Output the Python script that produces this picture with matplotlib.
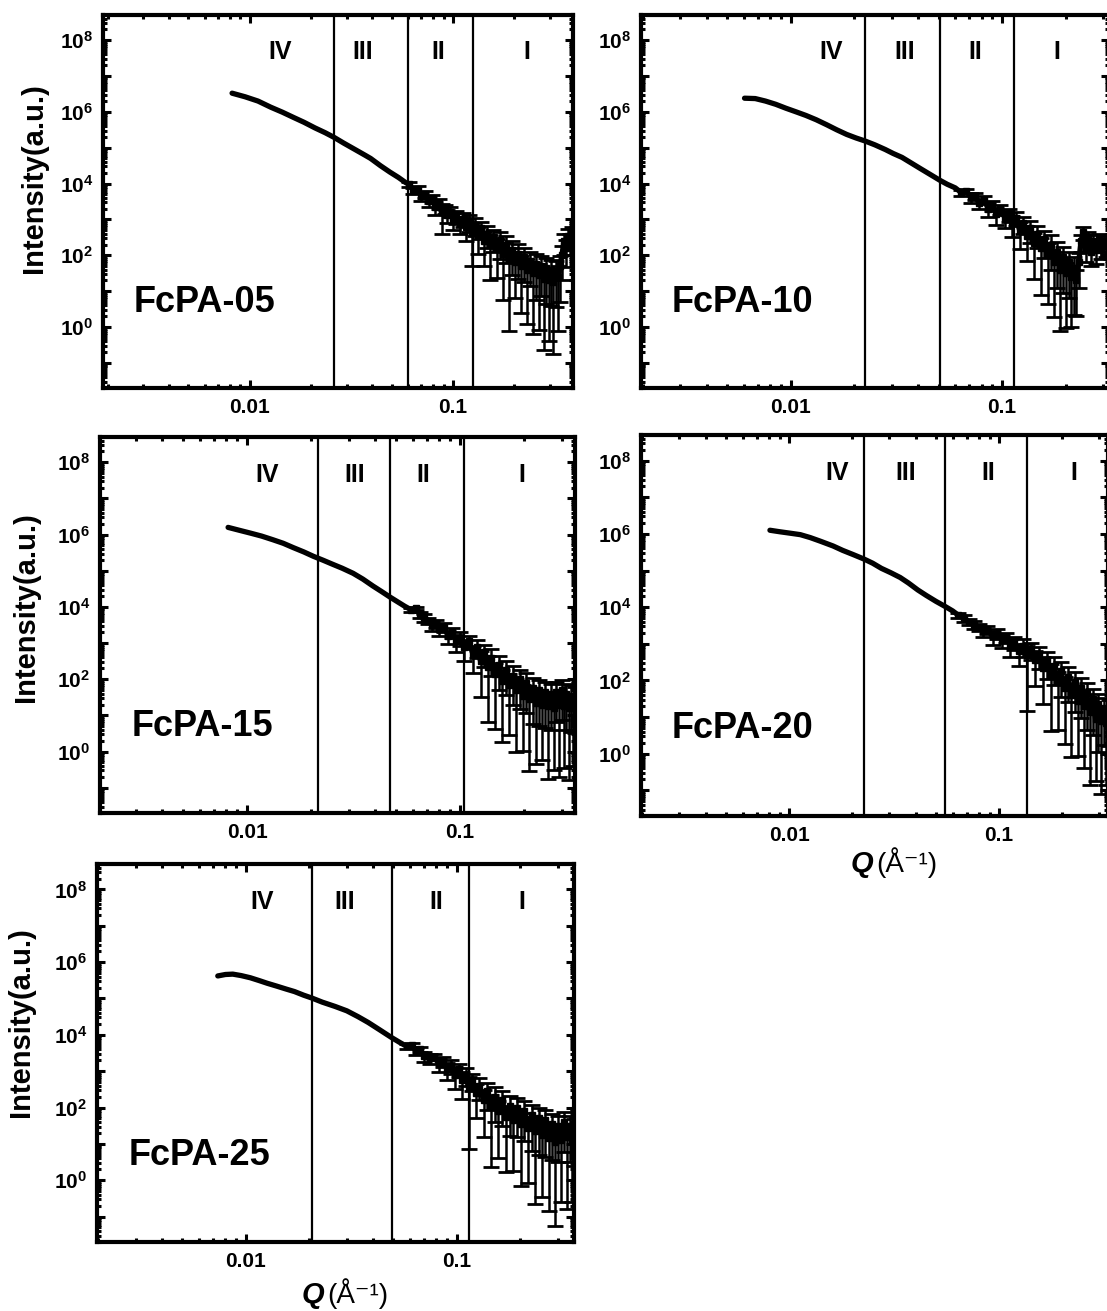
import numpy as np
import matplotlib
matplotlib.use('Agg')
import matplotlib.pyplot as plt
from matplotlib.ticker import LogLocator, NullFormatter

plt.rcParams['font.family'] = ['Liberation Sans', 'DejaVu Sans']
plt.rcParams['font.weight'] = 'bold'
plt.rcParams['axes.labelweight'] = 'bold'
plt.rcParams['mathtext.fontset'] = 'custom'
plt.rcParams['mathtext.rm'] = 'Liberation Sans:bold'
plt.rcParams['mathtext.bf'] = 'Liberation Sans:bold'
plt.rcParams['mathtext.it'] = 'Liberation Sans:bold:italic'

# ---- data: Q (1/A), log10 intensity, relative error ----
# FcPA-05
q05 = [0.0082, 0.0095, 0.011, 0.0127, 0.0145, 0.0165, 0.0185, 0.021, 0.0235, 0.026,
       0.029, 0.033, 0.037, 0.0394, 0.044, 0.049, 0.054, 0.0585]
lg05 = [6.52, 6.42, 6.30, 6.13, 5.99, 5.84, 5.71, 5.55, 5.42, 5.29,
        5.13, 4.95, 4.79, 4.70, 4.50, 4.32, 4.17, 4.03]
q05n = [0.061, 0.064, 0.067, 0.070, 0.073, 0.076, 0.079, 0.082, 0.085, 0.088,
        0.091, 0.094, 0.097, 0.100, 0.104, 0.108, 0.112, 0.116, 0.120, 0.124,
        0.128, 0.133, 0.138, 0.143, 0.148, 0.153, 0.158, 0.164, 0.170, 0.176,
        0.182, 0.188, 0.195, 0.202, 0.209, 0.216, 0.224, 0.232, 0.240, 0.248,
        0.256, 0.264, 0.272, 0.280, 0.288, 0.296, 0.304, 0.312, 0.320, 0.328,
        0.336, 0.344, 0.352, 0.360, 0.368, 0.376, 0.385]
lg05n = [3.98, 3.80, 3.85, 3.65, 3.70, 3.50, 3.58, 3.35, 3.45, 3.20,
         3.30, 3.12, 3.22, 3.00, 3.10, 2.90, 3.02, 2.80, 2.95, 2.62,
         2.85, 2.55, 2.75, 2.40, 2.60, 2.30, 2.50, 2.20, 2.42, 2.05,
         2.30, 1.90, 2.15, 1.80, 2.05, 1.70, 1.95, 1.60, 1.85, 1.50,
         1.75, 1.45, 1.70, 1.35, 1.65, 1.30, 1.60, 1.25, 1.55, 1.40,
         1.70, 2.00, 2.40, 2.20, 2.55, 2.40, 2.60]
er05n = [0.15, 0.2, 0.2, 0.25, 0.2, 0.3, 0.25, 0.4, 0.3, 0.75,
         0.3, 0.4, 0.3, 0.5, 0.4, 0.5, 0.4, 0.6, 0.5, 0.88,
         0.5, 0.7, 0.5, 0.8, 0.6, 0.9, 0.6, 0.85, 0.7, 0.95,
         0.7, 0.99, 0.8, 0.9, 0.8, 0.95, 0.8, 0.97, 0.8, 0.98,
         0.9, 0.97, 0.85, 0.99, 0.9, 0.98, 0.9, 0.99, 0.9, 0.97,
         0.9, 0.8, 0.6, 0.7, 0.5, 0.6, 0.5]

# FcPA-10
q10 = [0.00605, 0.0068, 0.0076, 0.0085, 0.0095, 0.0106, 0.0118, 0.0132, 0.0148, 0.0165,
       0.0184, 0.0204, 0.0224, 0.025, 0.028, 0.0305, 0.0336, 0.037, 0.041, 0.0455,
       0.0508, 0.055, 0.060]
lg10 = [6.38, 6.37, 6.30, 6.21, 6.10, 6.00, 5.90, 5.78, 5.64, 5.50,
        5.37, 5.27, 5.19, 5.08, 4.95, 4.84, 4.73, 4.58, 4.42, 4.26,
        4.09, 3.98, 3.88]
q10n = [0.064, 0.0675, 0.071, 0.0745, 0.078, 0.082, 0.086, 0.090, 0.094, 0.098,
        0.103, 0.108, 0.1115, 0.116, 0.121, 0.126, 0.131, 0.136, 0.141, 0.146,
        0.152, 0.158, 0.164, 0.170, 0.176, 0.182, 0.188, 0.194, 0.200, 0.206,
        0.212, 0.218, 0.224, 0.230, 0.236, 0.242, 0.248, 0.255, 0.262, 0.270,
        0.278, 0.286, 0.294, 0.302, 0.310, 0.318, 0.326]
lg10n = [3.75, 3.80, 3.62, 3.65, 3.45, 3.55, 3.30, 3.40, 3.15, 3.28,
         3.05, 3.15, 2.90, 3.05, 2.70, 2.90, 2.55, 2.75, 2.35, 2.60,
         2.20, 2.45, 2.05, 2.30, 1.80, 2.10, 1.60, 1.95, 1.50, 1.80,
         1.40, 1.65, 1.30, 1.80, 2.40, 2.65, 2.20, 2.50, 2.10, 2.40,
         2.15, 2.45, 2.20, 2.40, 2.25, 2.35, 2.20]
er10n = [0.2, 0.15, 0.3, 0.2, 0.3, 0.25, 0.4, 0.3, 0.5, 0.3,
         0.5, 0.4, 0.6, 0.4, 0.7, 0.5, 0.8, 0.6, 0.9, 0.6,
         0.95, 0.7, 0.96, 0.8, 0.97, 0.9, 0.98, 0.9, 0.97, 0.9,
         0.96, 0.95, 0.9, 0.8, 0.5, 0.4, 0.6, 0.4, 0.6, 0.5,
         0.6, 0.4, 0.5, 0.5, 0.5, 0.5, 0.5]

# FcPA-15
q15 = [0.00815, 0.0092, 0.0104, 0.0117, 0.0132, 0.0148, 0.0165, 0.0185, 0.0205, 0.0228,
       0.025, 0.028, 0.0315, 0.035, 0.039, 0.043, 0.047, 0.051, 0.055]
lg15 = [6.20, 6.12, 6.04, 5.96, 5.86, 5.76, 5.64, 5.52, 5.40, 5.29,
        5.19, 5.07, 4.93, 4.77, 4.58, 4.42, 4.27, 4.14, 4.02]
q15n = [0.059, 0.062, 0.065, 0.068, 0.071, 0.074, 0.077, 0.080, 0.084, 0.088,
        0.092, 0.096, 0.100, 0.105, 0.110, 0.115, 0.120, 0.125, 0.130, 0.135,
        0.140, 0.146, 0.152, 0.158, 0.164, 0.170, 0.177, 0.184, 0.191, 0.198,
        0.205, 0.212, 0.220, 0.228, 0.236, 0.244, 0.252, 0.260, 0.268, 0.276,
        0.284, 0.292, 0.300, 0.308, 0.316, 0.324, 0.332, 0.340, 0.348]
lg15n = [3.92, 3.96, 3.78, 3.70, 3.62, 3.50, 3.55, 3.38, 3.45, 3.20,
         3.30, 3.05, 3.15, 2.89, 3.05, 2.70, 2.90, 2.50, 2.75, 2.35,
         2.60, 2.15, 2.40, 1.95, 2.25, 1.85, 2.10, 1.70, 2.00, 1.55,
         1.90, 1.45, 1.75, 1.35, 1.70, 1.30, 1.65, 1.25, 1.60, 1.20,
         1.65, 1.30, 1.70, 1.25, 1.60, 1.20, 1.55, 1.30, 1.50]
er15n = [0.15, 0.1, 0.2, 0.25, 0.2, 0.3, 0.25, 0.35, 0.3, 0.4,
         0.3, 0.5, 0.4, 0.6, 0.4, 0.7, 0.5, 0.9, 0.6, 0.97,
         0.7, 0.97, 0.8, 0.98, 0.8, 0.96, 0.85, 0.98, 0.85, 0.97,
         0.85, 0.99, 0.9, 0.98, 0.9, 0.97, 0.9, 0.99, 0.9, 0.98,
         0.85, 0.99, 0.85, 0.98, 0.9, 0.99, 0.9, 0.98, 0.9]

# FcPA-20
q20 = [0.0081, 0.0090, 0.0101, 0.0113, 0.0126, 0.0141, 0.0162, 0.0180, 0.0203, 0.0228,
       0.025, 0.0275, 0.0305, 0.0338, 0.037, 0.041, 0.045, 0.050, 0.0553, 0.060]
lg20 = [6.10, 6.06, 6.02, 5.98, 5.90, 5.80, 5.67, 5.55, 5.43, 5.31,
        5.20, 5.06, 4.94, 4.81, 4.66, 4.47, 4.32, 4.16, 4.02, 3.90]
q20n = [0.064, 0.068, 0.072, 0.076, 0.080, 0.084, 0.088, 0.093, 0.098, 0.103,
        0.108, 0.113, 0.118, 0.124, 0.130, 0.136, 0.142, 0.148, 0.155, 0.162,
        0.169, 0.176, 0.183, 0.190, 0.197, 0.205, 0.213, 0.221, 0.229, 0.237,
        0.245, 0.253, 0.261, 0.270, 0.279, 0.288, 0.297, 0.306, 0.315, 0.324,
        0.333]
lg20n = [3.78, 3.70, 3.60, 3.52, 3.45, 3.35, 3.40, 3.20, 3.28, 3.10,
         3.18, 2.95, 3.05, 2.80, 2.95, 2.70, 2.85, 2.55, 2.70, 2.35,
         2.55, 2.15, 2.40, 1.95, 2.25, 1.80, 2.10, 1.60, 1.95, 1.45,
         1.80, 1.30, 1.65, 1.15, 1.50, 0.95, 1.35, 0.90, 1.25, 0.85,
         1.20]
er20n = [0.15, 0.2, 0.2, 0.25, 0.2, 0.3, 0.25, 0.4, 0.3, 0.4,
         0.3, 0.5, 0.4, 0.6, 0.5, 0.97, 0.5, 0.8, 0.6, 0.9,
         0.7, 0.97, 0.7, 0.95, 0.8, 0.97, 0.8, 0.98, 0.85, 0.97,
         0.85, 0.98, 0.9, 0.99, 0.9, 0.98, 0.95, 0.99, 0.9, 0.98,
         0.9]

# FcPA-25
q25 = [0.00736, 0.0080, 0.00867, 0.0095, 0.0105, 0.0116, 0.0126, 0.0140, 0.0155, 0.0170,
       0.0188, 0.0206, 0.023, 0.0265, 0.0301, 0.034, 0.038, 0.043, 0.0492, 0.054]
lg25 = [5.62, 5.66, 5.67, 5.63, 5.57, 5.49, 5.42, 5.34, 5.26, 5.19,
        5.09, 5.01, 4.90, 4.78, 4.66, 4.50, 4.34, 4.14, 3.92, 3.78]
q25n = [0.058, 0.061, 0.064, 0.067, 0.070, 0.0745, 0.078, 0.082, 0.086, 0.090,
        0.094, 0.098, 0.102, 0.106, 0.110, 0.114, 0.118, 0.123, 0.128, 0.134,
        0.139, 0.145, 0.151, 0.157, 0.164, 0.171, 0.178, 0.185, 0.193, 0.201,
        0.209, 0.217, 0.226, 0.235, 0.244, 0.253, 0.262, 0.272, 0.282, 0.292,
        0.302, 0.312, 0.322, 0.332, 0.342, 0.352, 0.360]
lg25n = [3.68, 3.72, 3.55, 3.60, 3.42, 3.35, 3.40, 3.20, 3.28, 3.05,
         3.15, 2.90, 3.05, 2.75, 2.90, 2.55, 2.75, 2.40, 2.60, 2.20,
         2.45, 2.05, 2.30, 1.90, 2.20, 1.75, 2.05, 1.65, 2.00, 1.55,
         1.90, 1.45, 1.80, 1.35, 1.70, 1.25, 1.65, 1.15, 1.55, 1.05,
         1.50, 1.10, 1.60, 1.20, 1.50, 1.10, 1.40]
er25n = [0.15, 0.1, 0.2, 0.15, 0.3, 0.3, 0.2, 0.4, 0.3, 0.5,
         0.4, 0.6, 0.4, 0.7, 0.5, 0.98, 0.5, 0.8, 0.6, 0.9,
         0.7, 0.98, 0.8, 0.95, 0.8, 0.97, 0.85, 0.96, 0.85, 0.98,
         0.85, 0.97, 0.9, 0.99, 0.9, 0.98, 0.9, 0.99, 0.9, 0.995,
         0.9, 0.98, 0.85, 0.99, 0.9, 0.98, 0.9]

samples = ['FcPA-05', 'FcPA-10', 'FcPA-15', 'FcPA-20', 'FcPA-25']
smooth_q = [q05, q10, q15, q20, q25]
smooth_lg = [lg05, lg10, lg15, lg20, lg25]
noisy_q = [q05n, q10n, q15n, q20n, q25n]
noisy_lg = [lg05n, lg10n, lg15n, lg20n, lg25n]
noisy_err = [er05n, er10n, er15n, er20n, er25n]

# region boundaries (Q) and where the region labels sit
bounds = [[0.0259, 0.060, 0.1255],
          [0.0224, 0.0508, 0.114],
          [0.0215, 0.047, 0.105],
          [0.0228, 0.0553, 0.136],
          [0.0206, 0.0492, 0.114]]
region_names = ['IV', 'III', 'II', 'I']
region_q = [[0.0142, 0.036, 0.085, 0.232],
            [0.0156, 0.0347, 0.0744, 0.182],
            [0.0124, 0.0321, 0.067, 0.195],
            [0.0169, 0.036, 0.0886, 0.227],
            [0.012, 0.0294, 0.080, 0.203]]
xlims = [(0.0019, 0.39), (0.00196, 0.32), (0.00204, 0.347), (0.00197, 0.33), (0.00197, 0.359)]

# axes boxes in pixels: left, top, right, bottom
W, H = 1107, 1311
boxes = [(103, 15, 573, 388), (641, 15, 1109, 388), (100, 437, 575, 813),
         (641, 435, 1108, 816), (97, 864, 574, 1242)]
# y label anchor (axes fraction) for the left column
ylab_xy = {0: (-0.117, 0.563), 2: (-0.126, 0.548), 4: (-0.13, 0.582)}

fig = plt.figure(figsize=(W / 100, H / 100), dpi=100)

for i in range(5):
    l, t, r, b = boxes[i]
    ax = fig.add_axes([l / W, 1 - b / H, (r - l) / W, (b - t) / H])

    n_s = len(smooth_q[i])
    q_all = np.concatenate([smooth_q[i], noisy_q[i]])
    I_all = 10.0 ** np.concatenate([smooth_lg[i], noisy_lg[i]])
    qn = np.array(noisy_q[i])
    In = 10.0 ** np.array(noisy_lg[i])
    dI = In * np.array(noisy_err[i])

    ax.errorbar(qn, In, yerr=dI, fmt='none', ecolor='k', elinewidth=1.8,
                capsize=6, capthick=2, zorder=3)
    ax.plot(q_all, I_all, color='k', lw=3.8, solid_capstyle='round',
            marker='s', ms=5, markevery=list(range(n_s, len(q_all))), zorder=4)

    for qb in bounds[i]:
        ax.axvline(qb, color='k', lw=1.6, zorder=2)
    for name, qr in zip(region_names, region_q[i]):
        ax.text(qr, 0.9, name, transform=ax.get_xaxis_transform(), ha='center',
                va='center', fontsize=18)

    ax.text(0.066, 0.205, samples[i], transform=ax.transAxes, fontsize=26,
            ha='left', va='baseline')

    ax.set_xscale('log')
    ax.set_yscale('log')

    ax.set_xticks([0.01, 0.1], ['0.01', '0.1'])
    ax.xaxis.set_minor_locator(LogLocator(base=10, subs=np.arange(2, 10), numticks=20))
    ax.xaxis.set_minor_formatter(NullFormatter())

    exps = np.arange(-1, 9)
    ax.set_yticks(10.0 ** exps,
                  [r'$\mathbf{10^{%d}}$' % e if (e >= 0 and e % 2 == 0) else '' for e in exps])
    ax.yaxis.set_minor_locator(LogLocator(base=10, subs=np.arange(2, 10), numticks=20))
    ax.yaxis.set_minor_formatter(NullFormatter())

    # limits after the ticks, so the ticks do not widen them
    ax.set_xlim(*xlims[i])
    ax.set_ylim(10 ** -1.7, 10 ** 8.7)

    ax.tick_params(which='both', direction='in', top=True, right=True, width=2.2)
    ax.tick_params(which='major', length=6, pad=7)
    ax.tick_params(which='minor', length=3)
    ax.tick_params(axis='x', labelsize=15)
    ax.tick_params(axis='y', labelsize=15)
    for sp in ax.spines.values():
        sp.set_linewidth(3)

    if i in ylab_xy:
        ax.set_ylabel('Intensity(a.u.)', fontsize=21, fontweight='bold')
        ax.yaxis.set_label_coords(*ylab_xy[i])

# x axis titles under the bottom panels
for xq, base in [(873, 872), (324, 1303)]:
    fig.text(xq / W, 1 - base / H, 'Q', fontsize=21, fontstyle='italic',
             fontweight='bold', ha='right', va='baseline')
    fig.text((xq + 3) / W, 1 - base / H, '(Å⁻¹)', fontsize=20,
             fontweight='normal', ha='left', va='baseline')

fig.savefig('out.png', dpi=100)
